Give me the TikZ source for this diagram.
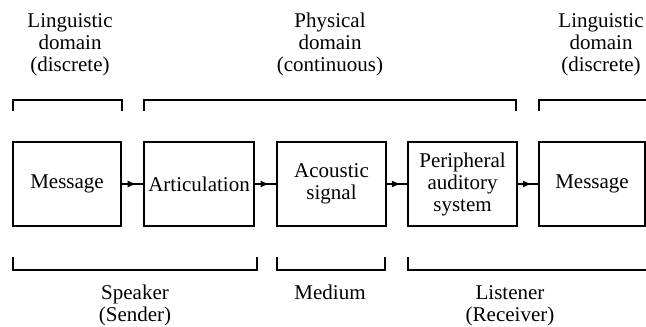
\documentclass[tikz,border=0pt]{standalone}
\usepackage{fontspec}
\setmainfont{Liberation Serif}
\usetikzlibrary{arrows.meta,decorations.markings}
\begin{document}
\begin{tikzpicture}[x=1pt,y=-1pt,
  every node/.style={font=\fontsize{21}{22}\selectfont},
  blockbox/.style={draw,line width=2.2pt,minimum height=84pt,inner sep=0pt,align=center},
  label/.style={align=center,inner sep=0pt,anchor=north},
  brack/.style={line width=2.2pt},
  flow/.style={line width=2pt,postaction={decorate},
    decoration={markings,mark=at position 0.7 with {\arrow{Latex[length=9pt,width=7pt]}}}}]
\useasboundingbox (0,0) rectangle (646,327);
% boxes
\node[blockbox,minimum width=108pt] (b1) at (67,184) {Message};
\node[blockbox,minimum width=110pt] (b2) at (199,184) {Articulation};
\node[blockbox,minimum width=109pt] (b3) at (331.5,184) {Acoustic\\signal};
\node[blockbox,minimum width=109pt] (b4) at (462.5,184) {Peripheral\\auditory\\system};
\node[blockbox,minimum width=106pt] (b5) at (592,184) {Message};
% connectors
\draw[flow] (b1.east) -- (b2.west);
\draw[flow] (b2.east) -- (b3.west);
\draw[flow] (b3.east) -- (b4.west);
\draw[flow] (b4.east) -- (b5.west);
% top brackets
\draw[brack] (13,111) -- (13,100) -- (122,100) -- (122,111);
\draw[brack] (144,111) -- (144,100) -- (516,100) -- (516,111);
\draw[brack] (539,111) -- (539,100) -- (646,100);
% bottom brackets
\draw[brack] (13,257) -- (13,270) -- (257,270) -- (257,257);
\draw[brack] (277,257) -- (277,270) -- (385,270) -- (385,257);
\draw[brack] (408,257) -- (408,270) -- (646,270);
% top labels
\node[label] (tl) at (70,13) {Linguistic\\domain\\(discrete)};
\node[label] (tm) at (330,13) {Physical\\domain\\(continuous)};
\node[label] (tr) at (601,13) {Linguistic\\domain\\(discrete)};
% bottom labels
\node[label] (sp) at (135,285) {Speaker\\(Sender)};
\node[label] (md) at (330,285) {Medium};
\node[label] (ls) at (510,285) {Listener\\(Receiver)};
\end{tikzpicture}
\end{document}
